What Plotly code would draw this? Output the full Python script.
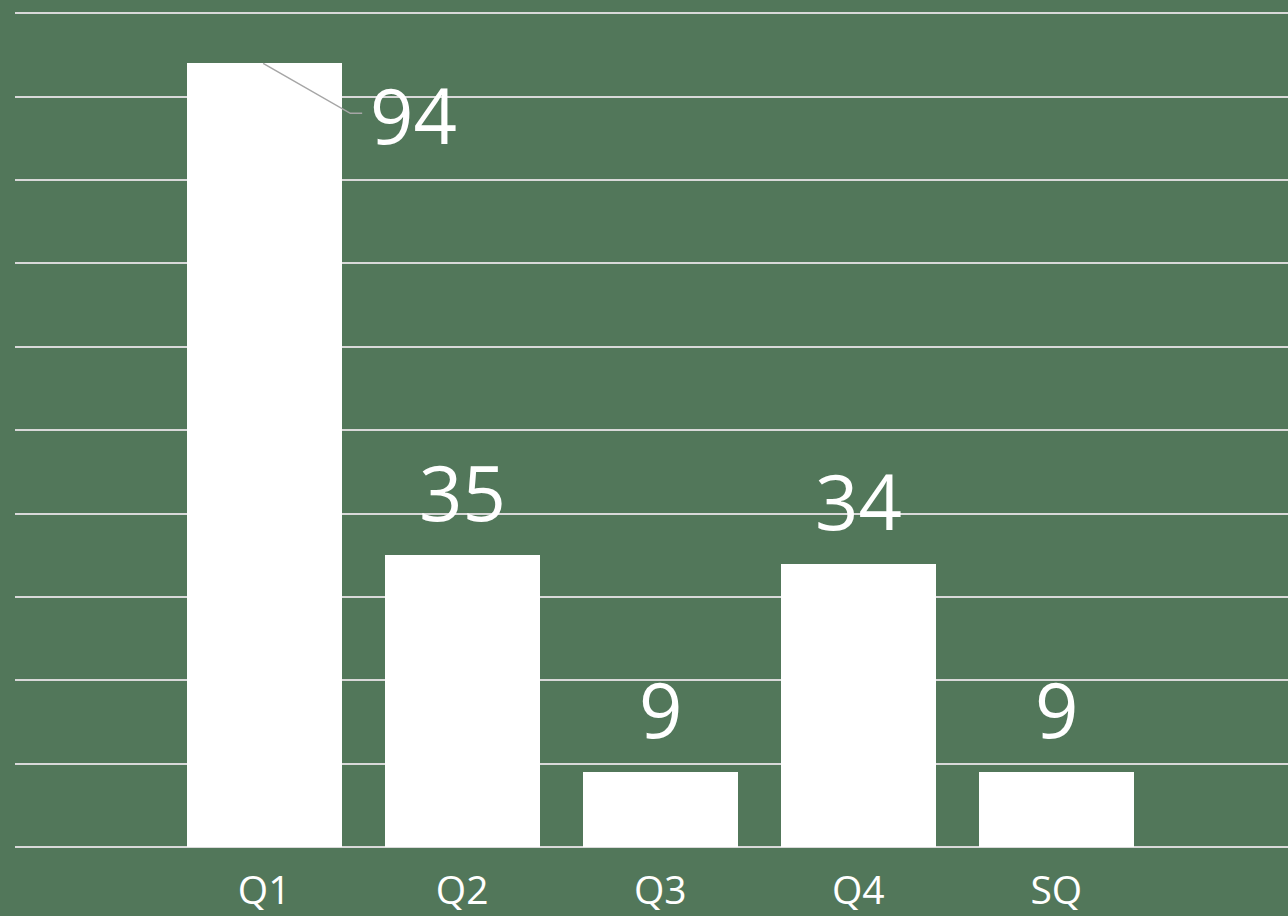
import plotly.graph_objects as go

categories = ["Q1", "Q2", "Q3", "Q4", "SQ"]
values = [94, 35, 9, 34, 9]
y_ticks = [0, 10, 20, 30, 40, 50, 60, 70, 80, 90, 100]

BG = "#52775a"
FONT = "Open Sans"

x_idx = list(range(len(categories)))

fig = go.Figure()
fig.add_trace(go.Bar(
    x=x_idx, y=values, width=0.783,
    marker=dict(color="white", line=dict(width=0)),
    hoverinfo="skip",
))

# data labels
for i, v in enumerate(values):
    if i == 0:
        # label placed beside the bar with a leader line
        fig.add_annotation(x=i + 0.753, y=v - 6.2, text=str(v), showarrow=False,
                           xanchor="center", yanchor="middle",
                           font=dict(family=FONT, size=76, color="white"))
        fig.add_shape(type="path", xref="x", yref="y",
                      path=f"M {i - 0.005},{v} L {i + 0.435},{v - 6.0} L {i + 0.495},{v - 6.0}",
                      line=dict(color="#a6a6a6", width=1.5))
    else:
        fig.add_annotation(x=i, y=v, text=str(v), showarrow=False,
                           xanchor="center", yanchor="bottom", yshift=10,
                           font=dict(family=FONT, size=76, color="white"))

fig.update_layout(
    width=1288, height=916,
    margin=dict(l=15, r=0, t=12, b=69, autoexpand=False),
    paper_bgcolor=BG, plot_bgcolor=BG,
    showlegend=False,
    bargap=0,
    xaxis=dict(range=[-1.258, 5.17], tickmode="array", tickvals=x_idx, ticktext=categories,
               showgrid=False, zeroline=False, showline=False, automargin=False,
               ticks="outside", ticklen=9, tickcolor="rgba(0,0,0,0)",
               tickfont=dict(family=FONT, size=39, color="white")),
    yaxis=dict(range=[0, 100.15], tickvals=y_ticks, showticklabels=False,
               showgrid=True, gridcolor="#d9d9d9", gridwidth=1.5, automargin=False,
               zeroline=True, zerolinecolor="#d9d9d9", zerolinewidth=1.5,
               showline=False, fixedrange=True),
)

fig.write_html("out.html", config={"displayModeBar": False},
               post_script="document.body.style.margin='0';document.body.style.padding='0';")
